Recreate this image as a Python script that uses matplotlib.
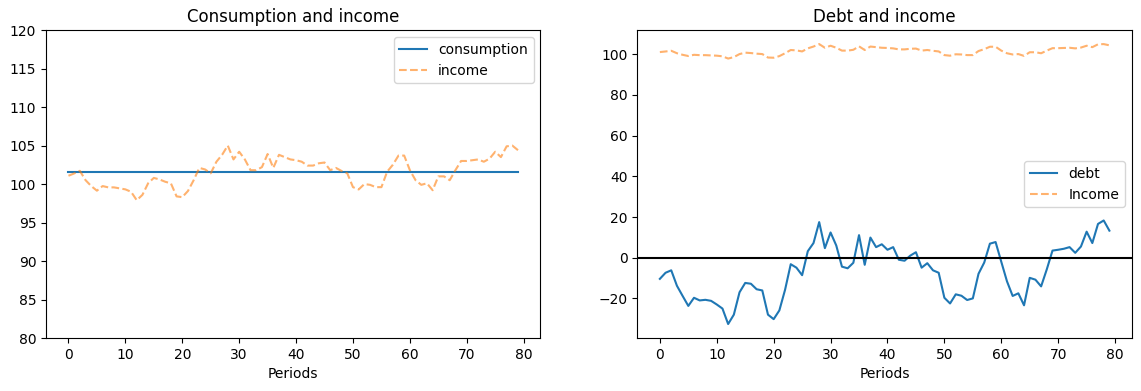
import numpy as np
from matplotlib import pyplot as plt

periods = np.arange(80)

consumption = [101.53] * 80

income = [101.08, 101.38, 101.72, 100.51, 99.74, 99.14, 99.74, 99.57, 99.57, 99.44,
          99.31, 99.0, 97.9, 98.6, 100.1, 100.8, 100.6, 100.3, 100.1, 98.4,
          98.3, 99.1, 100.5, 102.1, 101.9, 101.4, 102.9, 103.8, 105.0, 103.2,
          104.2, 103.2, 101.8, 101.8, 102.2, 103.9, 102.1, 103.8, 103.5, 103.2,
          103.1, 102.9, 102.4, 102.4, 102.7, 102.8, 101.8, 102.1, 101.7, 101.4,
          99.6, 99.3, 100.0, 99.9, 99.6, 99.6, 101.6, 102.5, 103.7, 103.7,
          101.8, 100.5, 99.9, 100.1, 99.2, 101.0, 101.0, 100.5, 101.8, 103.0,
          103.0, 103.1, 103.2, 102.9, 103.3, 104.2, 103.5, 104.9, 105.0, 104.4]

debt = [-10.4, -7.4, -6.2, -13.8, -18.8, -23.7, -19.7, -21.0, -20.7, -21.2,
        -23.0, -25.0, -32.6, -28.0, -17.0, -12.4, -12.8, -15.5, -16.1, -28.0,
        -30.2, -25.9, -15.8, -3.2, -4.9, -8.6, 3.2, 7.2, 17.5, 4.7,
        12.4, 6.0, -4.4, -5.2, -2.5, 11.1, -3.5, 9.9, 5.2, 6.6,
        3.9, 5.2, -1.0, -1.5, 1.0, 2.7, -4.9, -2.7, -6.2, -7.4,
        -19.7, -22.5, -18.0, -18.7, -20.8, -20.0, -7.9, -2.4, 6.9, 7.7,
        -2.0, -11.6, -18.8, -17.5, -23.4, -9.9, -10.8, -14.1, -5.7, 3.5,
        3.9, 4.4, 5.2, 2.4, 5.5, 12.8, 7.2, 16.6, 18.3, 13.3]

fig, (ax1, ax2) = plt.subplots(1, 2, figsize=(11.41, 3.91), dpi=100)
fig.subplots_adjust(left=0.0403, right=0.992, top=0.923, bottom=0.1355, wspace=0.196)

ax1.plot(periods, consumption, label='consumption')
ax1.plot(periods, income, label='income', color='tab:orange', ls='--', alpha=0.6)
ax1.set_ylim(80, 120)
ax1.set_title('Consumption and income')
ax1.set_xlabel('Periods')
ax1.legend(loc='upper right')

ax2.plot(periods, debt, label='debt')
ax2.plot(periods, income, label='Income', color='tab:orange', ls='--', alpha=0.6)
ax2.axhline(0, color='k')
ax2.set_title('Debt and income')
ax2.set_xlabel('Periods')
ax2.legend(loc='center right')

fig.savefig('out.png')
